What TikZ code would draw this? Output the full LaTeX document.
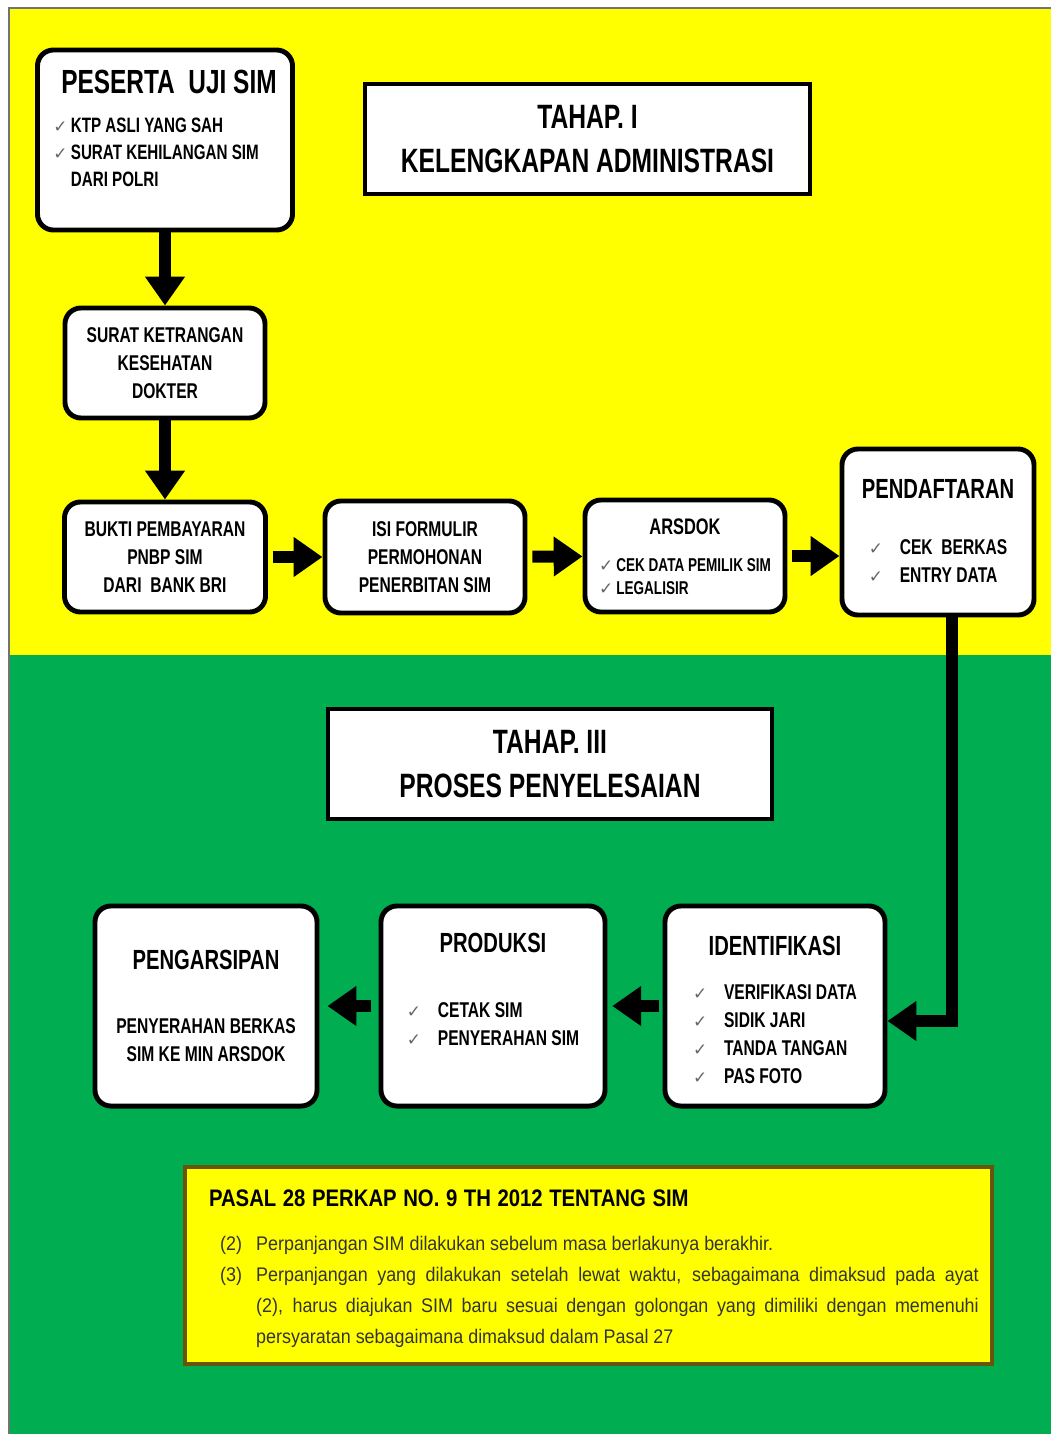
\documentclass[tikz,border=0pt]{standalone}
\usepackage{fontspec}
\setmainfont{Liberation Sans}
\newfontfamily\condfont{Liberation Sans}[FakeStretch=0.73]
\newfontfamily\narrowfont{Liberation Sans}[FakeStretch=0.85]
\newfontfamily\bodyfont{Liberation Sans}[FakeStretch=0.91]
\newfontfamily\tickfont{DejaVu Sans}
\usetikzlibrary{arrows.meta}

\definecolor{bgyellow}{RGB}{255,255,0}
\definecolor{bggreen}{RGB}{0,173,80}
\definecolor{boxrim}{RGB}{105,85,10}
\newcommand{\chk}{{\tickfont\fontsize{12}{12}\selectfont\color{black!60}✓}}

\tikzset{
  stage/.style={draw=black, line width=3.5pt, rounded corners=0.4cm, fill=white, align=center,
    inner sep=0pt, font={\condfont\bfseries\fontsize{15.2}{20}\selectfont}},
  stagetxt/.style={inner sep=0pt, align=center, font={\condfont\bfseries\fontsize{15.2}{20}\selectfont}},
  phase/.style={draw=black, line width=3pt, fill=white, align=center,
    font={\condfont\bfseries\fontsize{24}{31}\selectfont}},
  fat/.style={line width=0.3cm, -{Triangle[length=0.72cm,width=0.95cm]}},
  pasalbox/.style={draw=boxrim, line width=3pt, fill=bgyellow, align=left,
    font={\bodyfont\fontsize{14}{22}\selectfont\hyphenpenalty=10000\relax}},
}

\begin{document}
\begin{tikzpicture}[x=0.025cm,y=-0.025cm]
\useasboundingbox (0,0) rectangle (1056,1434);
% background
\fill[white] (0,0) rectangle (1056,1434);
\fill[bgyellow] (9,8) rectangle (1051,655);
\fill[bggreen] (9,655) rectangle (1051,1434);
\draw[black!55, line width=1.2pt] (9,1434) -- (9,8) -- (1051,8);

% tahap I
\node[stage, minimum width=6.375cm, minimum height=4.5cm] (peserta) at (165,140) {};
\node[stagetxt, anchor=north west, align=left, font={\condfont\bfseries\fontsize{14.8}{19.5}\selectfont}]
  (pesertatxt) at (53,70)
  {\hspace*{0.2cm}{\fontsize{23.8}{26}\selectfont PESERTA\ \ UJI SIM}\\[7.8pt]
   \chk\,KTP ASLI YANG SAH\\
   \chk\,SURAT KEHILANGAN SIM\\
   \phantom{\chk\,}DARI POLRI};
\node[phase, minimum width=11.125cm, minimum height=2.75cm] (tahap1) at (587.5,139)
  {TAHAP. I\\KELENGKAPAN ADMINISTRASI};
\node[stage, minimum width=5cm, minimum height=2.75cm] (surat) at (165,363)
  {SURAT KETRANGAN\\KESEHATAN\\DOKTER};
\node[stage, minimum width=5.025cm, minimum height=2.75cm] (bukti) at (165,557)
  {BUKTI PEMBAYARAN\\PNBP SIM\\DARI\ \ BANK BRI};
\node[stage, minimum width=5cm, minimum height=2.8cm] (isi) at (425,557)
  {ISI FORMULIR\\PERMOHONAN\\PENERBITAN SIM};
\node[stage, minimum width=5cm, minimum height=2.8cm] (arsdok) at (685,556) {};
\node[stagetxt, anchor=north, font={\condfont\bfseries\fontsize{13.2}{16.5}\selectfont}]
  (arsdoktxt) at (685,519)
  {{\fontsize{16}{18}\selectfont ARSDOK}\\[9.5pt]
   \begin{tabular}[t]{@{}l@{}}\chk\,CEK DATA PEMILIK SIM\\ \chk\,LEGALISIR\end{tabular}};
\node[stage, minimum width=4.8cm, minimum height=4.15cm] (daftar) at (938,532) {};
\node[stagetxt, anchor=north] (daftartxt) at (938,479)
  {{\fontsize{19.7}{22}\selectfont PENDAFTARAN}\\[20pt]
   \begin{tabular}[t]{@{}l@{}}\chk\hspace{12pt}CEK\ \ BERKAS\\ \chk\hspace{12pt}ENTRY DATA\end{tabular}};

\draw[fat] (peserta) -- (surat);
\draw[fat] (surat) -- (bukti);
\draw[fat, shorten <=0.12cm] (bukti) -- (isi);
\draw[fat, shorten <=0.12cm] (isi) -- (arsdok);
\draw[fat, shorten <=0.12cm] (arsdok.east) -- (arsdok.east -| daftar.west);

% tahap III
\node[phase, minimum width=11.1cm, minimum height=2.75cm] (tahap3) at (550,764)
  {TAHAP. III\\PROSES PENYELESAIAN};
\node[stage, minimum width=5.55cm, minimum height=5cm] (arsip) at (206,1006)
  {{\fontsize{19.7}{22}\selectfont PENGARSIPAN}\\[26pt]
   PENYERAHAN BERKAS\\SIM KE MIN ARSDOK};
\node[stage, minimum width=5.6cm, minimum height=5cm] (produksi) at (493,1006) {};
\node[stagetxt, anchor=north] (produksitxt) at (493,933)
  {{\fontsize{19.7}{22}\selectfont PRODUKSI}\\[26pt]
   \begin{tabular}[t]{@{}l@{}}\chk\hspace{12pt}CETAK SIM\\ \chk\hspace{12pt}PENYERAHAN SIM\end{tabular}};
\node[stage, minimum width=5.5cm, minimum height=5cm] (ident) at (775,1006) {};
\node[stagetxt, anchor=north] (identtxt) at (775,936)
  {{\fontsize{19.7}{22}\selectfont IDENTIFIKASI}\\[11pt]
   \begin{tabular}[t]{@{}l@{}}\chk\hspace{12pt}VERIFIKASI DATA\\ \chk\hspace{12pt}SIDIK JARI\\
   \chk\hspace{12pt}TANDA TANGAN\\ \chk\hspace{12pt}PAS FOTO\end{tabular}};

\coordinate (turn) at (952,1021);
\draw[fat] (daftar.south -| turn) -- (turn) -- (ident.east |- turn);
\draw[fat, shorten <=0.08cm, shorten >=0.12cm] (ident) -- (produksi);
\draw[fat, shorten <=0.18cm, shorten >=0.2cm] (produksi) -- (arsip);

% pasal
\node[pasalbox, anchor=north west, minimum height=4.925cm, text width=19.5cm, inner xsep=0.3375cm]
  (pasal) at (183,1165)
  {\rule{0pt}{20pt}\hspace*{0.26cm}{\narrowfont\bfseries\fontsize{17}{20}\selectfont PASAL 28 PERKAP NO. 9 TH 2012 TENTANG SIM}\\[15pt]
   \color{black!80}%
   \begin{tabular}{@{\hspace{0.54cm}}p{0.9cm}@{}p{18.06cm}@{}}
   (2) & \spaceskip=0pt\xspaceskip=0pt Perpanjangan SIM dilakukan sebelum masa berlakunya berakhir.\\
   (3) & \spaceskip=0pt\xspaceskip=0pt Perpanjangan yang dilakukan setelah lewat waktu, sebagaimana dimaksud pada ayat\linebreak
   (2), harus diajukan SIM baru sesuai dengan golongan yang dimiliki dengan memenuhi\linebreak
   persyaratan sebagaimana dimaksud dalam Pasal 27
   \end{tabular}};
\end{tikzpicture}
\end{document}
